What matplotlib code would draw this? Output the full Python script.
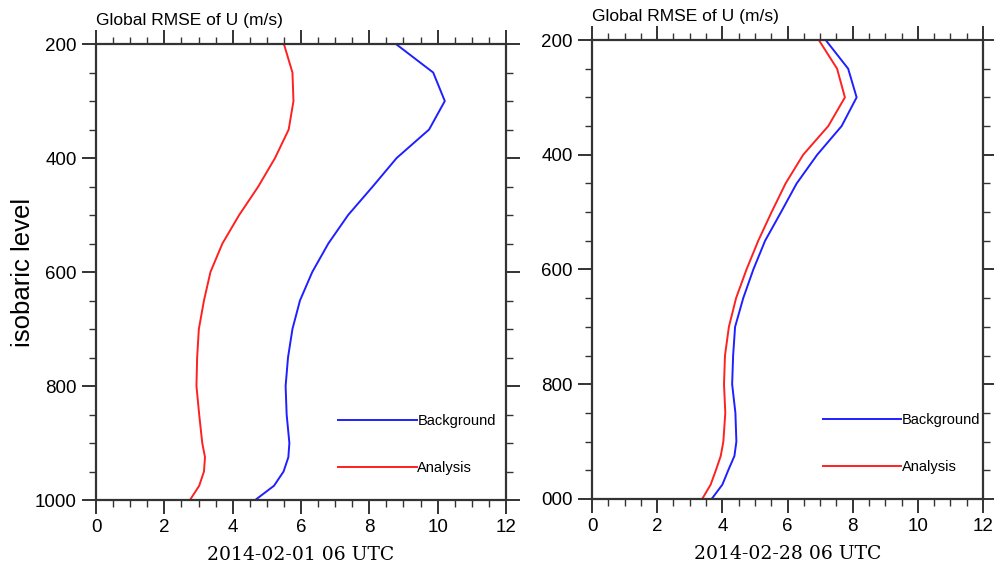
import matplotlib
matplotlib.use("Agg")
import matplotlib.pyplot as plt
from matplotlib.ticker import MultipleLocator

# pressure levels (hPa) and RMSE of U (m/s)
levels = [200, 250, 300, 350, 400, 450, 500, 550, 600, 650, 700, 750, 800,
          850, 900, 925, 950, 975, 1000]

bg_0201 = [8.78, 9.87, 10.21, 9.75, 8.80, 8.10, 7.38, 6.80, 6.33, 5.97, 5.75,
           5.62, 5.55, 5.58, 5.66, 5.63, 5.49, 5.21, 4.66]
an_0201 = [5.50, 5.75, 5.78, 5.64, 5.24, 4.75, 4.19, 3.70, 3.35, 3.16, 3.01,
           2.96, 2.94, 3.02, 3.11, 3.19, 3.16, 3.02, 2.75]

bg_0228 = [7.17, 7.86, 8.12, 7.66, 6.91, 6.28, 5.80, 5.31, 4.95, 4.64, 4.39,
           4.33, 4.30, 4.40, 4.43, 4.37, 4.18, 4.00, 3.67]
an_0228 = [6.96, 7.52, 7.76, 7.25, 6.48, 5.94, 5.51, 5.10, 4.74, 4.42, 4.20,
           4.08, 4.05, 4.09, 4.03, 3.95, 3.80, 3.64, 3.38]

y_ticks = [200, 400, 600, 800, 1000]
y_labels_left = ["200", "400", "600", "800", "1000"]
y_labels_right = ["200", "400", "600", "800", "000"]   # leading "1" cropped in the source
x_ticks = [0, 2, 4, 6, 8, 10, 12]

title = "Global RMSE of U (m/s)"
dates = ["2014-02-01 06 UTC", "2014-02-28 06 UTC"]

SANS = ["Liberation Sans", "DejaVu Sans"]
SERIF = ["DejaVu Serif", "Liberation Serif"]
plt.rcParams["font.family"] = SANS

fig = plt.figure(figsize=(9.95, 5.74), dpi=100)
ax1 = fig.add_axes([0.0965, 0.1289, 0.412, 0.7944])
ax2 = fig.add_axes([0.595, 0.1307, 0.393, 0.7996])

panels = [(ax1, bg_0201, an_0201, y_labels_left, dates[0]),
          (ax2, bg_0228, an_0228, y_labels_right, dates[1])]

for ax, bg, an, ylab, date in panels:
    ax.plot(bg, levels, color="#1f1fff", lw=1.4, label="Background")
    ax.plot(an, levels, color="#ff2020", lw=1.4, label="Analysis")
    ax.set_xlim(0, 12)
    ax.set_ylim(1000, 200)
    ax.set_xticks(x_ticks)
    ax.xaxis.set_minor_locator(MultipleLocator(0.5))
    ax.set_yticks(y_ticks)
    ax.set_yticklabels(ylab)
    ax.yaxis.set_minor_locator(MultipleLocator(50))
    ax.tick_params(which="both", direction="out", top=True, right=True,
                   color="#333333", width=1.4, labelsize=13.5, pad=4)
    ax.tick_params(which="major", length=10)
    ax.tick_params(which="minor", length=5, width=1.0)
    for s in ax.spines.values():
        s.set_linewidth(1.6)
        s.set_color("#333333")
    ax.text(0, 1.041, title, transform=ax.transAxes, fontsize=12.5,
            ha="left", va="baseline")
    ax.set_xlabel(date, family=SERIF, fontsize=13.5, labelpad=7)
    ax.legend(loc="lower left", bbox_to_anchor=(0.59, 0.054), frameon=False,
              fontsize=10.5, handlelength=5.4, handletextpad=0.05,
              labelspacing=2.26, borderpad=0, borderaxespad=0)

ax1.set_ylabel("isobaric level", fontsize=18.5, labelpad=0)

fig.savefig("out.png", dpi=100)
